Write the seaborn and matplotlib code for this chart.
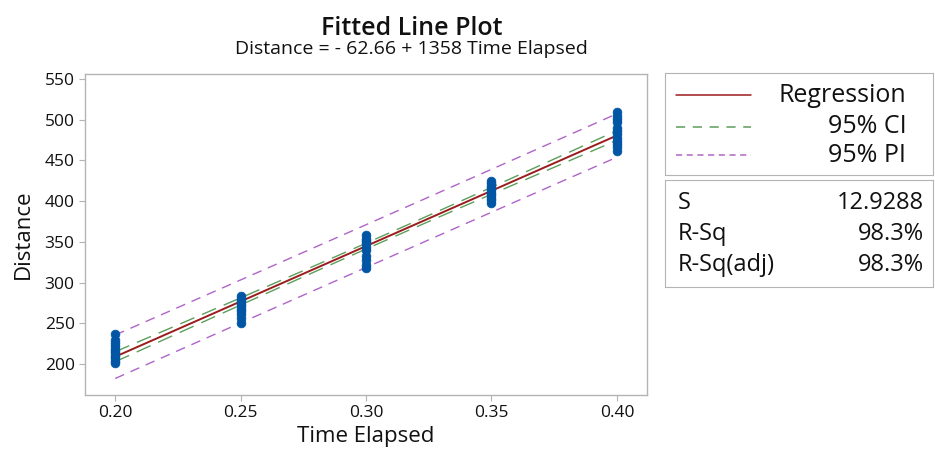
import numpy as np
import pandas as pd
import matplotlib
matplotlib.use('Agg')
import matplotlib.pyplot as plt
import seaborn as sns

sns.set_style('white')
plt.rcParams['font.family'] = ['Open Sans', 'DejaVu Sans']
plt.rcParams['text.color'] = '#111111'
plt.rcParams['axes.labelcolor'] = '#111111'
plt.rcParams['xtick.labelcolor'] = '#111111'
plt.rcParams['ytick.labelcolor'] = '#111111'

# data
x_levels = [0.20, 0.25, 0.30, 0.35, 0.40]
dist_020 = [201, 204, 207, 210, 213, 216, 219, 222, 226, 230, 237]
dist_025 = [250, 256, 262, 265, 268, 271, 274, 277, 280, 283]
dist_030 = [318, 322, 328, 332, 340, 344, 348, 351, 354, 358]
dist_035 = [398, 401, 404, 407, 410, 413, 416, 419, 422, 425]
dist_040 = [462, 466, 470, 474, 478, 482, 486, 490, 497, 501, 505, 509]

intercept = -62.66
slope = 1358
s_value = 12.9288
r_sq = 98.3
r_sq_adj = 98.3
t_crit = 2.011

groups = [dist_020, dist_025, dist_030, dist_035, dist_040]
df = pd.DataFrame({
    'Time Elapsed': np.concatenate([[x] * len(g) for x, g in zip(x_levels, groups)]),
    'Distance': np.concatenate(groups),
})

# fitted line with confidence / prediction bands
n = len(df)
xbar = df['Time Elapsed'].mean()
sxx = ((df['Time Elapsed'] - xbar) ** 2).sum()
xs = np.linspace(0.20, 0.40, 101)
fit = intercept + slope * xs
ci = t_crit * s_value * np.sqrt(1 / n + (xs - xbar) ** 2 / sxx)
pi = t_crit * s_value * np.sqrt(1 + 1 / n + (xs - xbar) ** 2 / sxx)
bands = pd.DataFrame({'x': xs, 'fit': fit, 'ci_lo': fit - ci, 'ci_hi': fit + ci,
                      'pi_lo': fit - pi, 'pi_hi': fit + pi})

red = '#9b1c1c'
green = '#5c9e5c'
purple = '#b064c8'
blue = '#0055a5'
grey = '#b4b4b4'

fig = plt.figure(figsize=(9.35, 4.54), dpi=100)
ax = fig.add_axes([0.091, 0.130, 0.601, 0.707])

sns.lineplot(data=bands, x='x', y='pi_hi', ax=ax, color=purple, lw=1, linestyle=(0, (7, 5)))
sns.lineplot(data=bands, x='x', y='pi_lo', ax=ax, color=purple, lw=1, linestyle=(0, (7, 5)))
sns.lineplot(data=bands, x='x', y='ci_hi', ax=ax, color=green, lw=1, linestyle=(0, (11, 6)))
sns.lineplot(data=bands, x='x', y='ci_lo', ax=ax, color=green, lw=1, linestyle=(0, (11, 6)))
sns.lineplot(data=bands, x='x', y='fit', ax=ax, color=red, lw=1.4)
sns.scatterplot(data=df, x='Time Elapsed', y='Distance', ax=ax, color=blue,
                s=40, edgecolor=blue, linewidth=0.5, zorder=5)

ax.set_xlim(0.188, 0.412)
ax.set_ylim(162, 556)
ax.set_xticks(x_levels)
ax.set_xticklabels(['%.2f' % v for v in x_levels])
ax.set_yticks(range(200, 551, 50))
ax.tick_params(axis='both', labelsize=12.5, length=4, color=grey, direction='out',
               bottom=True, left=True)
ax.set_xlabel('Time Elapsed', fontsize=16, labelpad=3)
ax.set_ylabel('Distance', fontsize=16, labelpad=8)
for sp in ax.spines.values():
    sp.set_color(grey)
    sp.set_linewidth(1)

fig.text(0.44, 0.922, 'Fitted Line Plot', ha='center', fontsize=18, fontweight='semibold')
fig.text(0.44, 0.88, 'Distance = - 62.66 + 1358 Time Elapsed', ha='center', fontsize=14)

# legend box
lg = fig.add_axes([0.711, 0.615, 0.287, 0.225])
lg.set_xlim(0, 1)
lg.set_ylim(0, 1)
lg.set_xticks([])
lg.set_yticks([])
for sp in lg.spines.values():
    sp.set_color(grey)
rows = [('Regression', red, '-', 0.78), ('95% CI', green, (0, (6, 5)), 0.47),
        ('95% PI', purple, (0, (4, 3)), 0.19)]
for label, c, ls, yy in rows:
    lg.plot([0.04, 0.32], [yy, yy], color=c, lw=1.1, linestyle=ls)
    lg.text(0.90, yy, label, ha='right', va='center', fontsize=18)

# summary box
sb = fig.add_axes([0.711, 0.368, 0.287, 0.235])
sb.set_xlim(0, 1)
sb.set_ylim(0, 1)
sb.set_xticks([])
sb.set_yticks([])
for sp in sb.spines.values():
    sp.set_color(grey)
stats = [('S', '%.4f' % s_value, 0.79), ('R-Sq', '%.1f%%' % r_sq, 0.5),
         ('R-Sq(adj)', '%.1f%%' % r_sq_adj, 0.21)]
for name, val, yy in stats:
    sb.text(0.05, yy, name, ha='left', va='center', fontsize=17)
    sb.text(0.965, yy, val, ha='right', va='center', fontsize=17)

fig.savefig('out.png', dpi=100)
